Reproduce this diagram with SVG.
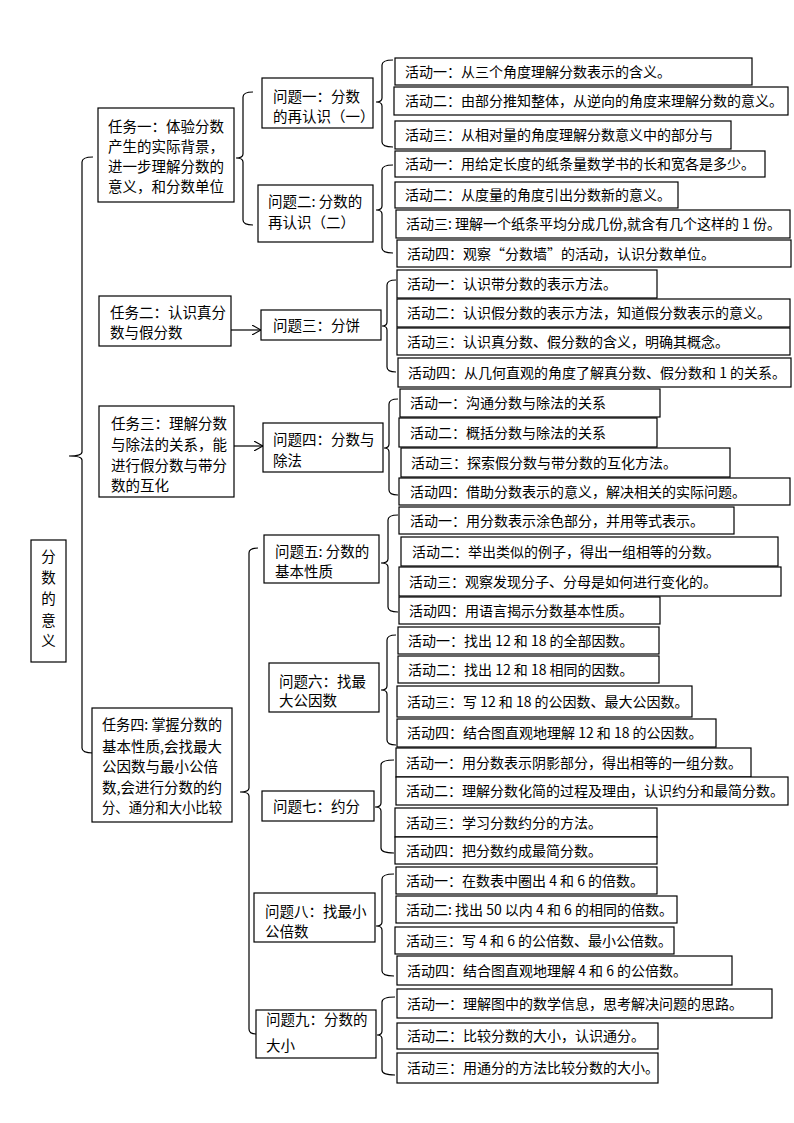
<svg xmlns="http://www.w3.org/2000/svg" width="794" height="1123" viewBox="0 0 794 1123">
<defs>
<style>
.b{fill:#fff;stroke:#000;stroke-width:1.2}
text{font-family:"Noto Sans CJK SC","Liberation Sans",sans-serif;fill:#000}
.a{font-size:14px}
.q{font-size:14.5px}
.t{font-size:14.5px}
.c{fill:none;stroke:#000;stroke-width:1.2}
</style>
<marker id="ar" viewBox="0 0 10 10" refX="9" refY="5" markerWidth="10" markerHeight="10" markerUnits="userSpaceOnUse" orient="auto">
<path d="M0,0 L9,5 L0,10" fill="none" stroke="#000" stroke-width="1.1"/>
</marker>
</defs>
<rect width="794" height="1123" fill="#fff"/>

<g id="connectors">
<path class="c" d="M93,157 Q82,157 82,162 L82,452 Q82,456 69,456 Q82,456 82,460 L82,748 Q82,753 93,753"/>
<path class="c" d="M253,92 Q243,92 243,97 L243,154 Q243,158 236,158 Q243,158 243,162 L243,220 Q243,225 253,225"/>
<path class="c" d="M258,548 Q249,548 249,553 L249,788 Q249,792 240,792 Q249,792 249,796 L249,1029 Q249,1034 256,1034"/>
<path class="c" d="M393,60 Q382,60 382,65 L382,98 Q382,102 376,102 Q382,102 382,106 L382,142 Q382,147 393,147"/>
<path class="c" d="M393,165 Q382,165 382,170 L382,206 Q382,210 376,210 Q382,210 382,214 L382,248 Q382,253 393,253"/>
<path class="c" d="M396,280 Q387,280 387,285 L387,322 Q387,326 382,326 Q387,326 387,330 L387,367 Q387,372 396,372"/>
<path class="c" d="M398,399 Q389,399 389,404 L389,444 Q389,448 384,448 Q389,448 389,452 L389,490 Q389,495 398,495"/>
<path class="c" d="M398,515 Q388,515 388,520 L388,559 Q388,563 381,563 Q388,563 388,567 L388,607 Q388,612 398,612"/>
<path class="c" d="M396,635 Q387,635 387,640 L387,686 Q387,690 381,690 Q387,690 387,694 L387,740 Q387,745 396,745"/>
<path class="c" d="M394,760 Q381,760 381,765 L381,803 Q381,807 375,807 Q381,807 381,811 L381,848 Q381,853 394,853"/>
<path class="c" d="M394,874 Q382,874 382,879 L382,922 Q382,926 376,926 Q382,926 382,930 L382,971 Q382,976 394,976"/>
<path class="c" d="M395,997 Q382,997 382,1002 L382,1031 Q382,1035 377,1035 Q382,1035 382,1039 L382,1070 Q382,1075 395,1075"/>
<line class="c" x1="231" y1="330" x2="261" y2="330" marker-end="url(#ar)"/>
<line class="c" x1="234" y1="446" x2="263" y2="446" marker-end="url(#ar)"/>
</g>

<g id="root">
<rect class="b" x="31" y="540" width="35" height="122"/>
<text class="t" x="48.5" y="562" text-anchor="middle">分</text>
<text class="t" x="48.5" y="583" text-anchor="middle">数</text>
<text class="t" x="48.5" y="604" text-anchor="middle">的</text>
<text class="t" x="48.5" y="626" text-anchor="middle">意</text>
<text class="t" x="48.5" y="646" text-anchor="middle">义</text>
</g>

<g id="task1">
<rect class="b" x="98" y="108" width="136" height="94"/>
<text class="t" x="108" y="132">任务一：体验分数</text>
<text class="t" x="108" y="152">产生的实际背景，</text>
<text class="t" x="108" y="172">进一步理解分数的</text>
<text class="t" x="108" y="192">意义，和分数单位</text>
</g>
<g id="task2">
<rect class="b" x="99" y="296" width="132" height="50"/>
<text class="t" x="110" y="318">任务二：认识真分</text>
<text class="t" x="110" y="338">数与假分数</text>
</g>
<g id="task3">
<rect class="b" x="99" y="406" width="135" height="91"/>
<text class="t" x="111" y="429">任务三：理解分数</text>
<text class="t" x="111" y="450">与除法的关系，能</text>
<text class="t" x="111" y="471">进行假分数与带分</text>
<text class="t" x="111" y="491">数的互化</text>
</g>
<g id="task4">
<rect class="b" x="92" y="708" width="140" height="114"/>
<text class="t" x="102" y="730" textLength="120" lengthAdjust="spacingAndGlyphs">任务四: 掌握分数的</text>
<text class="t" x="102" y="752" textLength="120" lengthAdjust="spacingAndGlyphs">基本性质,会找最大</text>
<text class="t" x="102" y="772">公因数与最小公倍</text>
<text class="t" x="102" y="793" textLength="120" lengthAdjust="spacingAndGlyphs">数,会进行分数的约</text>
<text class="t" x="102" y="813" textLength="120" lengthAdjust="spacingAndGlyphs">分、通分和大小比较</text>
</g>

<g id="q1">
<rect class="b" x="262" y="78" width="111" height="50"/>
<text class="q" x="273" y="102">问题一：分数</text>
<text class="q" x="273" y="122">的再认识（一）</text>
</g>
<g id="q2">
<rect class="b" x="258" y="185" width="115" height="57"/>
<text class="q" x="268" y="207">问题二: 分数的</text>
<text class="q" x="268" y="228">再认识（二）</text>
</g>
<g id="q3">
<rect class="b" x="261" y="310" width="120" height="30"/>
<text class="q" x="273" y="331">问题三：分饼</text>
</g>
<g id="q4">
<rect class="b" x="263" y="423" width="120" height="49"/>
<text class="q" x="273" y="445">问题四：分数与</text>
<text class="q" x="273" y="466">除法</text>
</g>
<g id="q5">
<rect class="b" x="264" y="535" width="115" height="48"/>
<text class="q" x="275" y="557">问题五: 分数的</text>
<text class="q" x="275" y="577">基本性质</text>
</g>
<g id="q6">
<rect class="b" x="269" y="663" width="110" height="49"/>
<text class="q" x="279" y="687">问题六：找最</text>
<text class="q" x="279" y="706">大公因数</text>
</g>
<g id="q7">
<rect class="b" x="262" y="791" width="112" height="30"/>
<text class="q" x="273" y="812">问题七：约分</text>
</g>
<g id="q8">
<rect class="b" x="254" y="893" width="121" height="49"/>
<text class="q" x="265" y="917">问题八：找最小</text>
<text class="q" x="265" y="937">公倍数</text>
</g>
<g id="q9">
<rect class="b" x="256" y="1010" width="120" height="48"/>
<text class="q" x="266" y="1025">问题九：分数的</text>
<text class="q" x="266" y="1051">大小</text>
</g>

<g id="q1-activities">
<g id="q1a1"><rect class="b" x="395" y="58" width="357" height="27"/><text class="a" x="405" y="77">活动一：从三个角度理解分数表示的含义。</text></g>
<g id="q1a2"><rect class="b" x="394" y="87" width="394" height="28"/><text class="a" x="405" y="106">活动二：由部分推知整体，从逆向的角度来理解分数的意义。</text></g>
<g id="q1a3"><rect class="b" x="395" y="121" width="336" height="28"/><text class="a" x="405" y="140">活动三：从相对量的角度理解分数意义中的部分与</text></g>
</g>
<g id="q2-activities">
<g id="q2a1"><rect class="b" x="395" y="151" width="370" height="26"/><text class="a" x="405" y="169">活动一：用给定长度的纸条量数学书的长和宽各是多少。</text></g>
<g id="q2a2"><rect class="b" x="395" y="182" width="283" height="26"/><text class="a" x="405" y="200">活动二：从度量的角度引出分数新的意义。</text></g>
<g id="q2a3"><rect class="b" x="396" y="210" width="394" height="28"/><text class="a" x="406" y="229">活动三: 理解一个纸条平均分成几份,就含有几个这样的 1 份。</text></g>
<g id="q2a4"><rect class="b" x="397" y="240" width="394" height="27"/><text class="a" x="407" y="259">活动四：观察“分数墙”的活动，认识分数单位。</text></g>
</g>
<g id="q3-activities">
<g id="q3a1"><rect class="b" x="397" y="270" width="260" height="28"/><text class="a" x="407" y="289">活动一：认识带分数的表示方法。</text></g>
<g id="q3a2"><rect class="b" x="397" y="299" width="393" height="28"/><text class="a" x="407" y="318">活动二：认识假分数的表示方法，知道假分数表示的意义。</text></g>
<g id="q3a3"><rect class="b" x="397" y="328" width="393" height="27"/><text class="a" x="407" y="347">活动三：认识真分数、假分数的含义，明确其概念。</text></g>
<g id="q3a4"><rect class="b" x="398" y="358" width="393" height="29"/><text class="a" x="408" y="378">活动四：从几何直观的角度了解真分数、假分数和 1 的关系。</text></g>
</g>
<g id="q4-activities">
<g id="q4a1"><rect class="b" x="400" y="389" width="260" height="28"/><text class="a" x="410" y="408">活动一：沟通分数与除法的关系</text></g>
<g id="q4a2"><rect class="b" x="399" y="418" width="258" height="29"/><text class="a" x="410" y="438">活动二：概括分数与除法的关系</text></g>
<g id="q4a3"><rect class="b" x="401" y="448" width="329" height="29"/><text class="a" x="411" y="468">活动三：探索假分数与带分数的互化方法。</text></g>
<g id="q4a4"><rect class="b" x="399" y="478" width="391" height="27"/><text class="a" x="410" y="497">活动四：借助分数表示的意义，解决相关的实际问题。</text></g>
</g>
<g id="q5-activities">
<g id="q5a1"><rect class="b" x="399" y="507" width="335" height="27"/><text class="a" x="410" y="526">活动一：用分数表示涂色部分，并用等式表示。</text></g>
<g id="q5a2"><rect class="b" x="401" y="537" width="377" height="29"/><text class="a" x="412" y="557">活动二：举出类似的例子，得出一组相等的分数。</text></g>
<g id="q5a3"><rect class="b" x="399" y="567" width="382" height="29"/><text class="a" x="409" y="587">活动三：观察发现分子、分母是如何进行变化的。</text></g>
<g id="q5a4"><rect class="b" x="399" y="597" width="261" height="27"/><text class="a" x="409" y="616">活动四：用语言揭示分数基本性质。</text></g>
</g>
<g id="q6-activities">
<g id="q6a1"><rect class="b" x="398" y="627" width="261" height="27"/><text class="a" x="408" y="646">活动一：找出 12 和 18 的全部因数。</text></g>
<g id="q6a2"><rect class="b" x="398" y="656" width="261" height="27"/><text class="a" x="408" y="675">活动二：找出 12 和 18 相同的因数。</text></g>
<g id="q6a3"><rect class="b" x="397" y="686" width="295" height="31"/><text class="a" x="407" y="707">活动三：写 12 和 18 的公因数、最大公因数。</text></g>
<g id="q6a4"><rect class="b" x="397" y="719" width="319" height="28"/><text class="a" x="407" y="738">活动四：结合图直观地理解 12 和 18 的公因数。</text></g>
</g>
<g id="q7-activities">
<g id="q7a1"><rect class="b" x="396" y="748" width="355" height="29"/><text class="a" x="406" y="768">活动一：用分数表示阴影部分，得出相等的一组分数。</text></g>
<g id="q7a2"><rect class="b" x="396" y="777" width="392" height="28"/><text class="a" x="406" y="796">活动二：理解分数化简的过程及理由，认识约分和最简分数。</text></g>
<g id="q7a3"><rect class="b" x="395" y="808" width="262" height="29"/><text class="a" x="406" y="828">活动三：学习分数约分的方法。</text></g>
<g id="q7a4"><rect class="b" x="395" y="837" width="262" height="27"/><text class="a" x="406" y="856">活动四：把分数约成最简分数。</text></g>
</g>
<g id="q8-activities">
<g id="q8a1"><rect class="b" x="396" y="867" width="261" height="27"/><text class="a" x="406" y="886">活动一：在数表中圈出 4 和 6 的倍数。</text></g>
<g id="q8a2"><rect class="b" x="396" y="896" width="281" height="27"/><text class="a" x="406" y="915">活动二: 找出 50 以内 4 和 6 的相同的倍数。</text></g>
<g id="q8a3"><rect class="b" x="395" y="927" width="279" height="27"/><text class="a" x="406" y="946">活动三：写 4 和 6 的公倍数、最小公倍数。</text></g>
<g id="q8a4"><rect class="b" x="397" y="956" width="335" height="29"/><text class="a" x="407" y="976">活动四：结合图直观地理解 4 和 6 的公倍数。</text></g>
</g>
<g id="q9-activities">
<g id="q9a1"><rect class="b" x="397" y="989" width="375" height="29"/><text class="a" x="407" y="1009">活动一：理解图中的数学信息，思考解决问题的思路。</text></g>
<g id="q9a2"><rect class="b" x="397" y="1023" width="261" height="26"/><text class="a" x="407" y="1041">活动二：比较分数的大小，认识通分。</text></g>
<g id="q9a3"><rect class="b" x="397" y="1053" width="261" height="30"/><text class="a" x="407" y="1073">活动三：用通分的方法比较分数的大小。</text></g>
</g>
</svg>
